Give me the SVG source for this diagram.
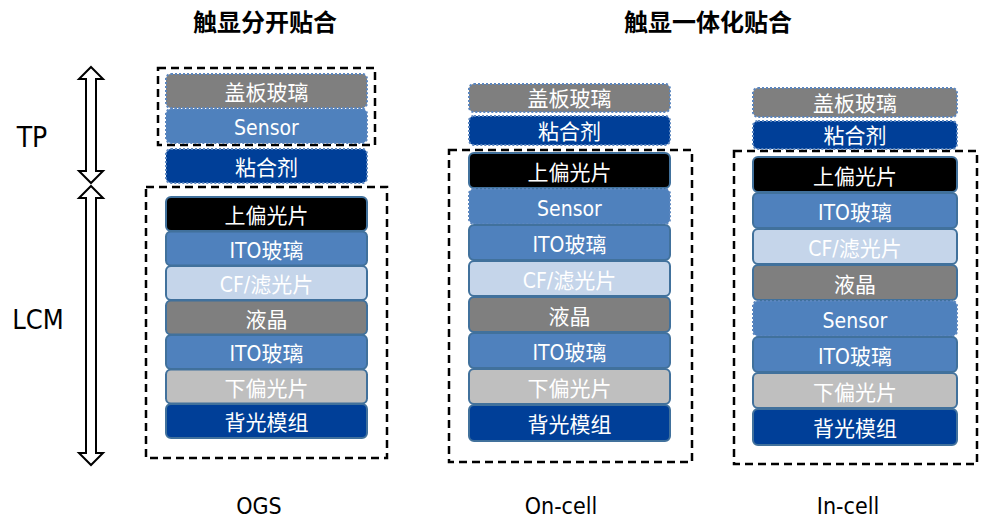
<svg xmlns="http://www.w3.org/2000/svg" width="982" height="522" viewBox="0 0 982 522">
<style>
.l{stroke:#41719c;stroke-width:2}
.dot{stroke:#5b86bf;stroke-width:2;stroke-dasharray:2 2}
.gray{fill:#7f7f7f}.blue{fill:#4f81bd}.navy{fill:#003f98}.black{fill:#000}.cf{fill:#c5d5ea}.lg{fill:#bfbfbf}
.t{font-family:"DejaVu Sans Condensed","DejaVu Sans","Noto Sans CJK SC",sans-serif;font-size:21px;fill:#fff;text-anchor:middle}
.box{fill:none;stroke:#000;stroke-width:2.5;stroke-dasharray:8 5}
.lab{font-family:"DejaVu Sans Condensed","DejaVu Sans",sans-serif;fill:#000;text-anchor:middle}
.title{font-family:"Noto Sans CJK SC",sans-serif;font-weight:bold;font-size:24px;fill:#000;text-anchor:middle}
.arr{fill:#fff;stroke:#000;stroke-width:2;stroke-linejoin:miter}
</style>
<text class="title" x="265" y="31">触显分开贴合</text>
<text class="title" x="708" y="31">触显一体化贴合</text>
<g id="labels">
<text class="lab" x="32" y="147" font-size="28">TP</text>
<text class="lab" x="38" y="329" font-size="27">LCM</text>
<text class="lab" x="259" y="514" font-size="23">OGS</text>
<text class="lab" x="561" y="514" font-size="23">On-cell</text>
<text class="lab" x="848" y="514" font-size="23">In-cell</text>
</g>
<g id="connectors">
<polygon class="arr" points="91,67 103,79 96,79 96,171 103,171 91,183 79,171 86,171 86,79 79,79"/>
<polygon class="arr" points="91,186 103,198 96,198 96,453 103,453 91,465 79,453 86,453 86,198 79,198"/>
</g>
<g id="ogs">
<rect class="box" x="158" y="68" width="217" height="77"/>
<rect class="box" x="146" y="187" width="241" height="271"/>
<g id="ogs-cover"><rect class="gray dot" x="166" y="74" width="201" height="34" rx="5"/><text class="t" x="266.5" y="100">盖板玻璃</text></g>
<g id="ogs-sensor"><rect class="blue dot" x="166" y="109" width="201" height="34" rx="5"/><text class="t" x="266.5" y="135">Sensor</text></g>
<g id="ogs-glue"><rect class="navy dot" x="166" y="149" width="201" height="34" rx="5"/><text class="t" x="266.5" y="175">粘合剂</text></g>
<g id="ogs-upol"><rect class="black l" x="166" y="197" width="201" height="34" rx="5"/><text class="t" x="266.5" y="223">上偏光片</text></g>
<g id="ogs-ito1"><rect class="blue l" x="166" y="231.5" width="201" height="34" rx="5"/><text class="t" x="266.5" y="257.5">ITO玻璃</text></g>
<g id="ogs-cf"><rect class="cf l" x="166" y="266" width="201" height="34" rx="5"/><text class="t" x="266.5" y="292">CF/滤光片</text></g>
<g id="ogs-lc"><rect class="gray l" x="166" y="300.5" width="201" height="34" rx="5"/><text class="t" x="266.5" y="326.5">液晶</text></g>
<g id="ogs-ito2"><rect class="blue l" x="166" y="335" width="201" height="34" rx="5"/><text class="t" x="266.5" y="361">ITO玻璃</text></g>
<g id="ogs-lpol"><rect class="lg l" x="166" y="369.5" width="201" height="34" rx="5"/><text class="t" x="266.5" y="395.5">下偏光片</text></g>
<g id="ogs-bl"><rect class="navy l" x="166" y="404" width="201" height="34" rx="5"/><text class="t" x="266.5" y="430">背光模组</text></g>
</g>
<g id="oncell">
<rect class="box" x="449" y="150" width="243" height="312"/>
<g id="on-cover"><rect class="gray dot" x="469" y="84" width="201" height="28" rx="5"/><text class="t" x="569.5" y="106">盖板玻璃</text></g>
<g id="on-glue"><rect class="navy dot" x="469" y="116" width="201" height="29" rx="5"/><text class="t" x="569.5" y="139">粘合剂</text></g>
<g id="on-upol"><rect class="black l" x="469" y="153" width="201" height="35" rx="5"/><text class="t" x="569.5" y="180">上偏光片</text></g>
<g id="on-sensor"><rect class="blue dot" x="469" y="189" width="201" height="35" rx="5"/><text class="t" x="569.5" y="216">Sensor</text></g>
<g id="on-ito1"><rect class="blue l" x="469" y="225" width="201" height="35" rx="5"/><text class="t" x="569.5" y="252">ITO玻璃</text></g>
<g id="on-cf"><rect class="cf l" x="469" y="261" width="201" height="35" rx="5"/><text class="t" x="569.5" y="288">CF/滤光片</text></g>
<g id="on-lc"><rect class="gray l" x="469" y="297" width="201" height="35" rx="5"/><text class="t" x="569.5" y="324">液晶</text></g>
<g id="on-ito2"><rect class="blue l" x="469" y="333" width="201" height="35" rx="5"/><text class="t" x="569.5" y="360">ITO玻璃</text></g>
<g id="on-lpol"><rect class="lg l" x="469" y="369" width="201" height="35" rx="5"/><text class="t" x="569.5" y="396">下偏光片</text></g>
<g id="on-bl"><rect class="navy l" x="469" y="405" width="201" height="36" rx="5"/><text class="t" x="569.5" y="432">背光模组</text></g>
</g>
<g id="incell">
<rect class="box" x="734" y="151" width="243" height="313"/>
<g id="in-cover"><rect class="gray dot" x="753" y="88" width="204" height="29" rx="5"/><text class="t" x="855" y="111">盖板玻璃</text></g>
<g id="in-glue"><rect class="navy dot" x="753" y="121" width="204" height="28" rx="5"/><text class="t" x="855" y="143">粘合剂</text></g>
<g id="in-upol"><rect class="black l" x="753" y="157" width="204" height="35" rx="5"/><text class="t" x="855" y="184">上偏光片</text></g>
<g id="in-ito1"><rect class="blue l" x="753" y="193" width="204" height="35" rx="5"/><text class="t" x="855" y="220">ITO玻璃</text></g>
<g id="in-cf"><rect class="cf l" x="753" y="229" width="204" height="35" rx="5"/><text class="t" x="855" y="256">CF/滤光片</text></g>
<g id="in-lc"><rect class="gray l" x="753" y="265" width="204" height="35" rx="5"/><text class="t" x="855" y="292">液晶</text></g>
<g id="in-sensor"><rect class="blue dot" x="753" y="301" width="204" height="35" rx="5"/><text class="t" x="855" y="328">Sensor</text></g>
<g id="in-ito2"><rect class="blue l" x="753" y="337" width="204" height="35" rx="5"/><text class="t" x="855" y="364">ITO玻璃</text></g>
<g id="in-lpol"><rect class="lg l" x="753" y="373" width="204" height="35" rx="5"/><text class="t" x="855" y="400">下偏光片</text></g>
<g id="in-bl"><rect class="navy l" x="753" y="409" width="204" height="36" rx="5"/><text class="t" x="855" y="436">背光模组</text></g>
</g>
</svg>
